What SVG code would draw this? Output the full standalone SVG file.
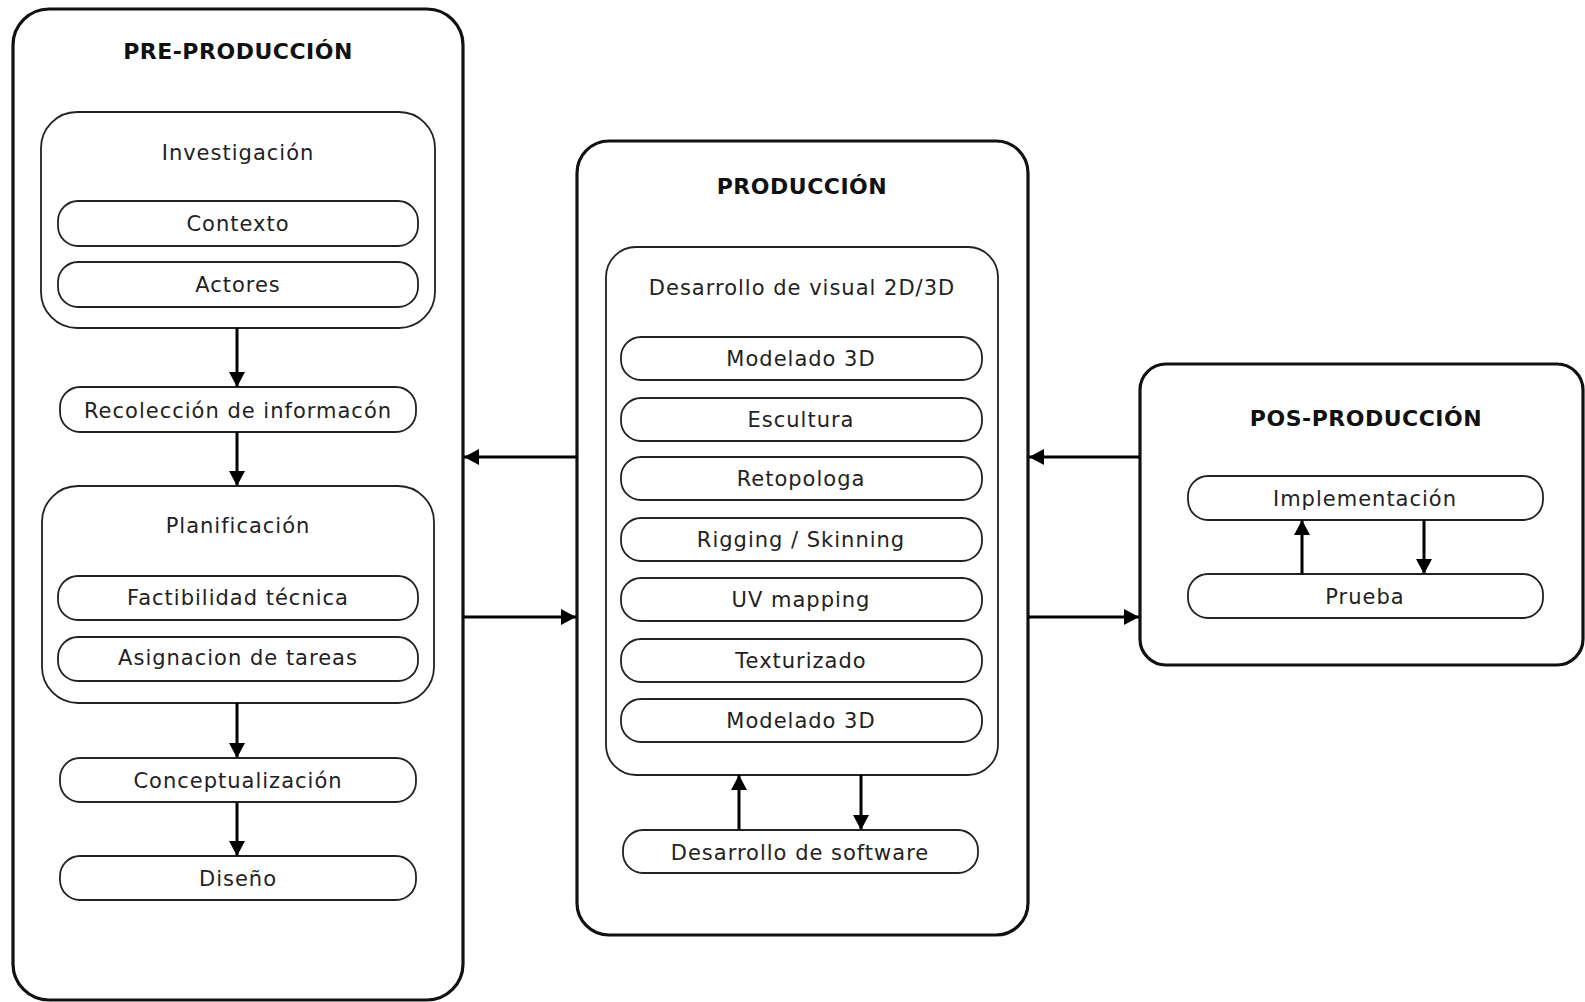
<svg xmlns="http://www.w3.org/2000/svg" width="1585" height="1002" viewBox="0 0 1585 1002">
  <style>
    .stage { fill: #fff; stroke: #111; stroke-width: 3.2; }
    .group { fill: #fff; stroke: #222; stroke-width: 1.8; }
    .pill { fill: #fff; stroke: #222; stroke-width: 1.8; }
    .title { font-family: "DejaVu Sans", "Liberation Sans", sans-serif; font-weight: 700; font-size: 22px; letter-spacing: 0.5px; fill: #111; text-anchor: middle; }
    .label { font-family: "DejaVu Sans", "Liberation Sans", sans-serif; font-size: 21px; letter-spacing: 1px; fill: #222; text-anchor: middle; }
    .wire { stroke: #000; stroke-width: 3; fill: none; marker-end: url(#head); }
  </style>
  <defs>
    <marker id="head" markerUnits="userSpaceOnUse" markerWidth="18" markerHeight="18" refX="15" refY="9" orient="auto">
      <path d="M0,1 L15,9 L0,17 z" fill="#000"/>
    </marker>
  </defs>
  <rect width="1585" height="1002" fill="#fff"/>

  <!-- Pre-production stage -->
  <g id="pre-produccion">
    <rect class="stage" x="13" y="9" width="450" height="991" rx="36"/>
    <text class="title" x="238" y="59">PRE-PRODUCCIÓN</text>
  </g>
  <g id="investigacion">
    <rect class="group" x="41" y="112" width="394" height="216" rx="36"/>
    <text class="label" x="238" y="160">Investigación</text>
  </g>
  <g id="contexto">
    <rect class="pill" x="58" y="201" width="360" height="45" rx="20"/>
    <text class="label" x="238" y="231">Contexto</text>
  </g>
  <g id="actores">
    <rect class="pill" x="58" y="262" width="360" height="45" rx="20"/>
    <text class="label" x="238" y="292">Actores</text>
  </g>
  <g id="recoleccion">
    <rect class="pill" x="60" y="387" width="356" height="45" rx="20"/>
    <text class="label" x="238" y="418">Recolección de informacón</text>
  </g>
  <g id="planificacion">
    <rect class="group" x="42" y="486" width="392" height="217" rx="36"/>
    <text class="label" x="238" y="533">Planificación</text>
  </g>
  <g id="factibilidad">
    <rect class="pill" x="58" y="576" width="360" height="44" rx="20"/>
    <text class="label" x="238" y="605">Factibilidad técnica</text>
  </g>
  <g id="asignacion">
    <rect class="pill" x="58" y="637" width="360" height="44" rx="20"/>
    <text class="label" x="238" y="665">Asignacion de tareas</text>
  </g>
  <g id="conceptualizacion">
    <rect class="pill" x="60" y="758" width="356" height="44" rx="20"/>
    <text class="label" x="238" y="788">Conceptualización</text>
  </g>
  <g id="diseno">
    <rect class="pill" x="60" y="856" width="356" height="44" rx="20"/>
    <text class="label" x="238" y="886">Diseño</text>
  </g>

  <!-- Production stage -->
  <g id="produccion">
    <rect class="stage" x="577" y="141" width="451" height="794" rx="32"/>
    <text class="title" x="802" y="194">PRODUCCIÓN</text>
  </g>
  <g id="desarrollo-visual">
    <rect class="group" x="606" y="247" width="392" height="528" rx="30"/>
    <text class="label" x="802" y="295">Desarrollo de visual 2D/3D</text>
  </g>
  <g id="modelado-1">
    <rect class="pill" x="621" y="337" width="361" height="43" rx="20"/>
    <text class="label" x="801" y="366">Modelado 3D</text>
  </g>
  <g id="escultura">
    <rect class="pill" x="621" y="398" width="361" height="43" rx="20"/>
    <text class="label" x="801" y="427">Escultura</text>
  </g>
  <g id="retopologia">
    <rect class="pill" x="621" y="457" width="361" height="43" rx="20"/>
    <text class="label" x="801" y="486">Retopologa</text>
  </g>
  <g id="rigging">
    <rect class="pill" x="621" y="518" width="361" height="43" rx="20"/>
    <text class="label" x="801" y="547">Rigging / Skinning</text>
  </g>
  <g id="uv-mapping">
    <rect class="pill" x="621" y="578" width="361" height="43" rx="20"/>
    <text class="label" x="801" y="607">UV mapping</text>
  </g>
  <g id="texturizado">
    <rect class="pill" x="621" y="639" width="361" height="43" rx="20"/>
    <text class="label" x="801" y="668">Texturizado</text>
  </g>
  <g id="modelado-2">
    <rect class="pill" x="621" y="699" width="361" height="43" rx="20"/>
    <text class="label" x="801" y="728">Modelado 3D</text>
  </g>
  <g id="desarrollo-software">
    <rect class="pill" x="623" y="830" width="355" height="43" rx="20"/>
    <text class="label" x="800" y="860">Desarrollo de software</text>
  </g>

  <!-- Post-production stage -->
  <g id="pos-produccion">
    <rect class="stage" x="1140" y="364" width="443" height="301" rx="26"/>
    <text class="title" x="1366" y="426">POS-PRODUCCIÓN</text>
  </g>
  <g id="implementacion">
    <rect class="pill" x="1188" y="476" width="355" height="44" rx="20"/>
    <text class="label" x="1365" y="506">Implementación</text>
  </g>
  <g id="prueba">
    <rect class="pill" x="1188" y="574" width="355" height="44" rx="20"/>
    <text class="label" x="1365" y="604">Prueba</text>
  </g>

  <!-- Connectors -->
  <g id="connectors">
    <line class="wire" x1="237" y1="328" x2="237" y2="387"/>
    <line class="wire" x1="237" y1="432" x2="237" y2="486"/>
    <line class="wire" x1="237" y1="703" x2="237" y2="758"/>
    <line class="wire" x1="237" y1="802" x2="237" y2="856"/>
    <line class="wire" x1="577" y1="457" x2="464" y2="457"/>
    <line class="wire" x1="463" y1="617" x2="576" y2="617"/>
    <line class="wire" x1="1140" y1="457" x2="1029" y2="457"/>
    <line class="wire" x1="1028" y1="617" x2="1139" y2="617"/>
    <line class="wire" x1="739" y1="830" x2="739" y2="775"/>
    <line class="wire" x1="861" y1="775" x2="861" y2="830"/>
    <line class="wire" x1="1302" y1="574" x2="1302" y2="520"/>
    <line class="wire" x1="1424" y1="520" x2="1424" y2="574"/>
  </g>
</svg>
